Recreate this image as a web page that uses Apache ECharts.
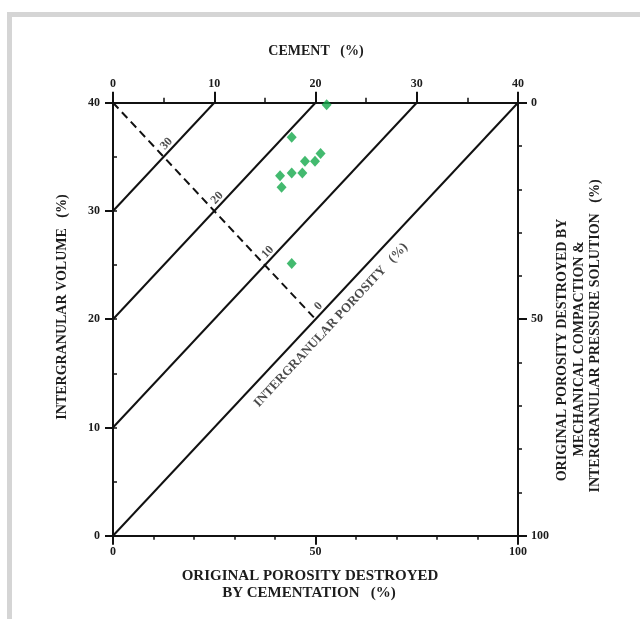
<!DOCTYPE html>
<html>
<head>
<meta charset="utf-8">
<script src="https://cdn.jsdelivr.net/npm/echarts@6/dist/echarts.min.js"></script>
<style>
  html, body { margin: 0; padding: 0; background: #fff; }
  #frame {
    position: absolute; left: 7px; top: 12px; width: 633px; height: 607px;
    border-top: 5px solid #d5d5d5; border-left: 5px solid #d5d5d5; box-sizing: border-box;
  }
  #chart { position: absolute; left: 0; top: 0; width: 640px; height: 619px; }
</style>
</head>
<body>
<div id="frame"></div>
<div id="chart"></div>
<script>
// Cement (%) vs intergranular volume (%) of the sandstone samples
const cementPct = [21.1, 17.65, 20.5, 19.95, 18.96, 16.5, 17.65, 18.7, 16.65, 17.65];
const volumePct = [39.8, 36.8, 35.3, 34.6, 34.6, 33.25, 33.5, 33.5, 32.2, 25.15];

// Axis ranges and tick steps
const cementRange = [0, 40];
const cementStep = 10;
const volumeRange = [0, 40];
const volumeStep = 10;
const destroyedRange = [0, 100];
const destroyedStep = 50;

// Lines of constant intergranular porosity (%)
const porosityLevels = [30, 20, 10, 0];

const FONT = 'Liberation Serif';
const INK = '#1c1c1c';
const AXIS = '#111';

// porosity = volume - cement; each line runs from the left axis to the top axis
const porositySeries = porosityLevels.map(p => ({
  type: 'line',
  xAxisIndex: 0, yAxisIndex: 0,
  data: [[0, p], [cementRange[1] - p, volumeRange[1]]],
  symbol: 'none',
  silent: true,
  lineStyle: { color: AXIS, width: 2 },
  z: 2
}));

// Dashed guide through the porosity lines (cement + volume = 40)
const guidePts = [[0, 40]].concat(porosityLevels.map(p => [(40 - p) / 2, (40 + p) / 2]));
const guideLabels = porosityLevels.map(p => [(40 - p) / 2, (40 + p) / 2, p]);

const chart = echarts.init(document.getElementById('chart'));

const tickLabel = { fontFamily: FONT, fontWeight: 'bold', fontSize: 12, color: INK };
const line = { show: true, onZero: false, lineStyle: { color: AXIS, width: 2 } };

chart.setOption({
  backgroundColor: 'transparent',
  animation: false,
  grid: { left: 113, top: 102.7, width: 405, height: 433, containLabel: false },
  xAxis: [
    {
      type: 'value', position: 'top', min: cementRange[0], max: cementRange[1], interval: cementStep,
      axisLine: line,
      axisTick: { show: true, length: 11, lineStyle: { color: AXIS, width: 2 } },
      minorTick: { show: true, splitNumber: 2, length: 5, lineStyle: { color: AXIS, width: 1.5 } },
      axisLabel: Object.assign({ margin: 13 }, tickLabel),
      splitLine: { show: false }
    },
    {
      type: 'value', position: 'bottom', min: destroyedRange[0], max: destroyedRange[1], interval: destroyedStep,
      axisLine: line,
      axisTick: { show: true, length: 9, lineStyle: { color: AXIS, width: 2 } },
      minorTick: { show: true, splitNumber: 5, length: 4, lineStyle: { color: AXIS, width: 1.5 } },
      axisLabel: Object.assign({ margin: 10 }, tickLabel),
      splitLine: { show: false }
    }
  ],
  yAxis: [
    {
      type: 'value', position: 'left', min: volumeRange[0], max: volumeRange[1], interval: volumeStep,
      axisLine: line,
      axisTick: { show: true, length: 8, lineStyle: { color: AXIS, width: 2 } },
      axisLabel: Object.assign({ margin: 13 }, tickLabel),
      splitLine: { show: false }
    },
    {
      // inward half-step ticks on the volume axis
      type: 'value', position: 'left', min: volumeRange[0], max: volumeRange[1], interval: volumeStep / 2,
      axisLine: { show: false, onZero: false },
      axisTick: { show: true, inside: true, length: 4, lineStyle: { color: AXIS, width: 1.5 } },
      axisLabel: { show: false },
      splitLine: { show: false }
    },
    {
      type: 'value', position: 'right', inverse: true, min: destroyedRange[0], max: destroyedRange[1], interval: destroyedStep,
      axisLine: line,
      axisTick: { show: true, length: 9, lineStyle: { color: AXIS, width: 2 } },
      minorTick: { show: true, splitNumber: 5, length: 4, lineStyle: { color: AXIS, width: 1.5 } },
      axisLabel: Object.assign({ margin: 13 }, tickLabel),
      splitLine: { show: false }
    }
  ],
  series: porositySeries.concat([
    {
      type: 'line',
      xAxisIndex: 0, yAxisIndex: 0,
      data: guidePts,
      symbol: 'none',
      silent: true,
      lineStyle: { color: AXIS, width: 2, type: [8, 5] },
      z: 2
    },
    {
      // porosity values written along the dashed guide
      type: 'scatter',
      xAxisIndex: 0, yAxisIndex: 0,
      data: guideLabels,
      symbolSize: 0,
      silent: true,
      label: {
        show: true, position: 'inside', rotate: 47, offset: [11.5, -6.7],
        formatter: d => String(d.value[2]),
        fontFamily: FONT, fontWeight: 'bold', fontSize: 12, color: INK
      },
      z: 3
    },
    {
      type: 'scatter',
      xAxisIndex: 0, yAxisIndex: 0,
      data: [[21.53, 19.45]],
      symbolSize: 0,
      silent: true,
      label: {
        show: true, position: 'inside', rotate: 47,
        formatter: 'INTERGRANULAR POROSITY   (%)',
        fontFamily: FONT, fontWeight: 'bold', fontSize: 13, color: INK
      },
      z: 3
    },
    {
      type: 'scatter',
      xAxisIndex: 0, yAxisIndex: 0,
      data: cementPct.map((c, i) => [c, volumePct[i]]),
      symbol: 'diamond',
      symbolSize: [10, 11],
      itemStyle: { color: '#14a94b' },
      z: 5
    }
  ]),
  graphic: [
    {
      type: 'text', x: 316, y: 51,
      style: { text: 'CEMENT   (%)', font: 'bold 14px "Liberation Serif"', fill: INK, align: 'center', verticalAlign: 'middle' }
    },
    {
      type: 'text', x: 62, y: 307, rotation: Math.PI / 2,
      style: { text: 'INTERGRANULAR VOLUME   (%)', font: 'bold 14px "Liberation Serif"', fill: INK, align: 'center', verticalAlign: 'middle' }
    },
    {
      type: 'text', x: 310, y: 576,
      style: { text: 'ORIGINAL POROSITY DESTROYED', font: 'bold 15px "Liberation Serif"', fill: INK, align: 'center', verticalAlign: 'middle' }
    },
    {
      type: 'text', x: 309, y: 593,
      style: { text: 'BY CEMENTATION   (%)', font: 'bold 15px "Liberation Serif"', fill: INK, align: 'center', verticalAlign: 'middle' }
    },
    {
      type: 'text', x: 562, y: 350, rotation: Math.PI / 2,
      style: { text: 'ORIGINAL POROSITY DESTROYED BY', font: 'bold 14px "Liberation Serif"', fill: INK, align: 'center', verticalAlign: 'middle' }
    },
    {
      type: 'text', x: 579, y: 349, rotation: Math.PI / 2,
      style: { text: 'MECHANICAL COMPACTION &', font: 'bold 14px "Liberation Serif"', fill: INK, align: 'center', verticalAlign: 'middle' }
    },
    {
      type: 'text', x: 595, y: 336, rotation: Math.PI / 2,
      style: { text: 'INTERGRANULAR PRESSURE SOLUTION   (%)', font: 'bold 14px "Liberation Serif"', fill: INK, align: 'center', verticalAlign: 'middle' }
    }
  ]
});
</script>
</body>
</html>
